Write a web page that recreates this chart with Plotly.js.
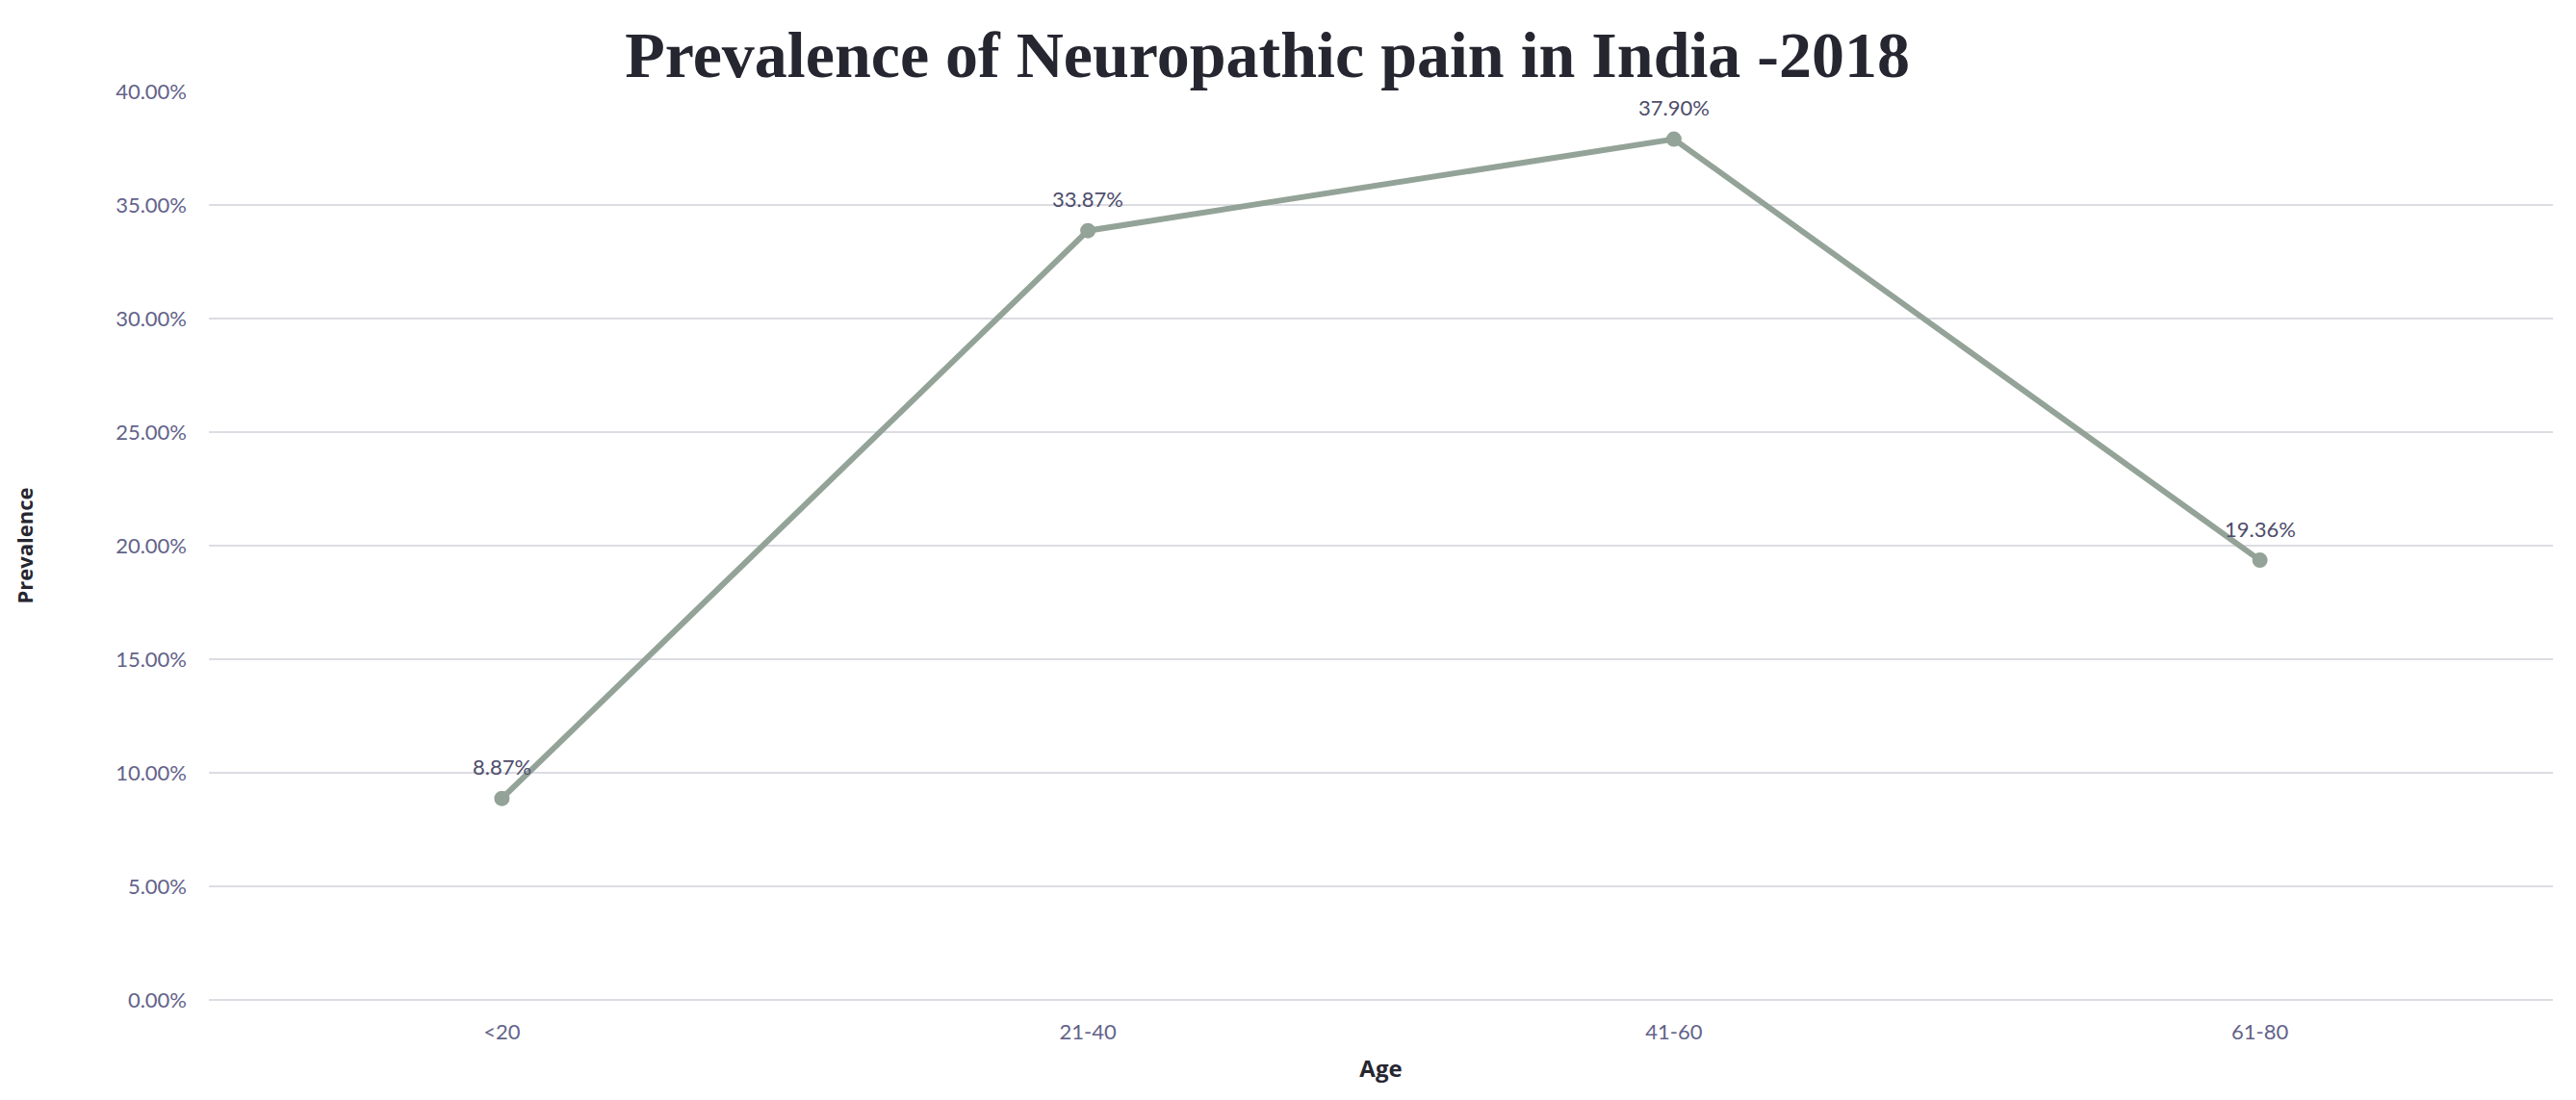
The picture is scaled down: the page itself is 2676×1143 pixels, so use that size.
<!DOCTYPE html>
<html>
<head>
<meta charset="utf-8">
<script src="https://cdn.plot.ly/plotly-3.0.1.min.js"></script>
<style>html,body{margin:0;padding:0;background:#fff;}#chart{width:2676px;height:1143px;}</style>
</head>
<body>
<div id="chart"></div>
<script>
const ageGroups = ["<20", "21-40", "41-60", "61-80"];
const prevalence = [0.0887, 0.3387, 0.3790, 0.1936];
const labels = ["8.87%", "33.87%", "37.90%", "19.36%"];

const trace = {
  x: ageGroups,
  y: prevalence,
  type: "scatter",
  mode: "lines+markers",
  line: {color: "#94a398", width: 6},
  marker: {color: "#94a398", size: 16},
  cliponaxis: false,
  hoverinfo: "none"
};

const annotations = ageGroups.map((g, i) => ({
  x: g,
  y: prevalence[i],
  xref: "x",
  yref: "y",
  text: labels[i],
  showarrow: false,
  xanchor: "center",
  yanchor: "middle",
  yshift: 33,
  font: {family: "Lato, 'Open Sans', sans-serif", size: 22, color: "#4d4d6b"}
}));

const layout = {
  width: 2676,
  height: 1143,
  paper_bgcolor: "#ffffff",
  plot_bgcolor: "#ffffff",
  margin: {l: 217, r: 24, t: 95, b: 104},
  showlegend: false,
  annotations: annotations,
  title: {
    text: "<b>Prevalence of Neuropathic pain in India -2018</b>",
    font: {family: "'Liberation Serif', serif", size: 68, color: "#262631"},
    x: 0.492, xanchor: "center",
    y: 0.951, yanchor: "middle"
  },
  xaxis: {
    type: "category",
    range: [-0.5, 3.5],
    showgrid: false,
    zeroline: false,
    showline: false,
    ticks: "",
    tickfont: {family: "Lato, 'Open Sans', sans-serif", size: 22, color: "#63638a"},
    ticklabelstandoff: 18,
    title: {text: "<b>Age</b>", font: {family: "'Open Sans', Lato, sans-serif", size: 24, color: "#262631"}, standoff: 18}
  },
  yaxis: {
    range: [0, 0.40],
    dtick: 0.05,
    tickformat: ".2%",
    showgrid: true,
    gridcolor: "#dcdce3",
    gridwidth: 2,
    zeroline: true,
    zerolinecolor: "#dcdce3",
    zerolinewidth: 2,
    showline: false,
    ticks: "",
    tickfont: {family: "Lato, 'Open Sans', sans-serif", size: 22, color: "#63638a"},
    ticklabelstandoff: 22,
    title: {text: "<b>Prevalence</b>", font: {family: "'Open Sans', Lato, sans-serif", size: 22, color: "#262631"}, standoff: 79}
  }
};

Plotly.newPlot("chart", [trace], layout, {displayModeBar: false, staticPlot: true});
</script>
</body>
</html>
